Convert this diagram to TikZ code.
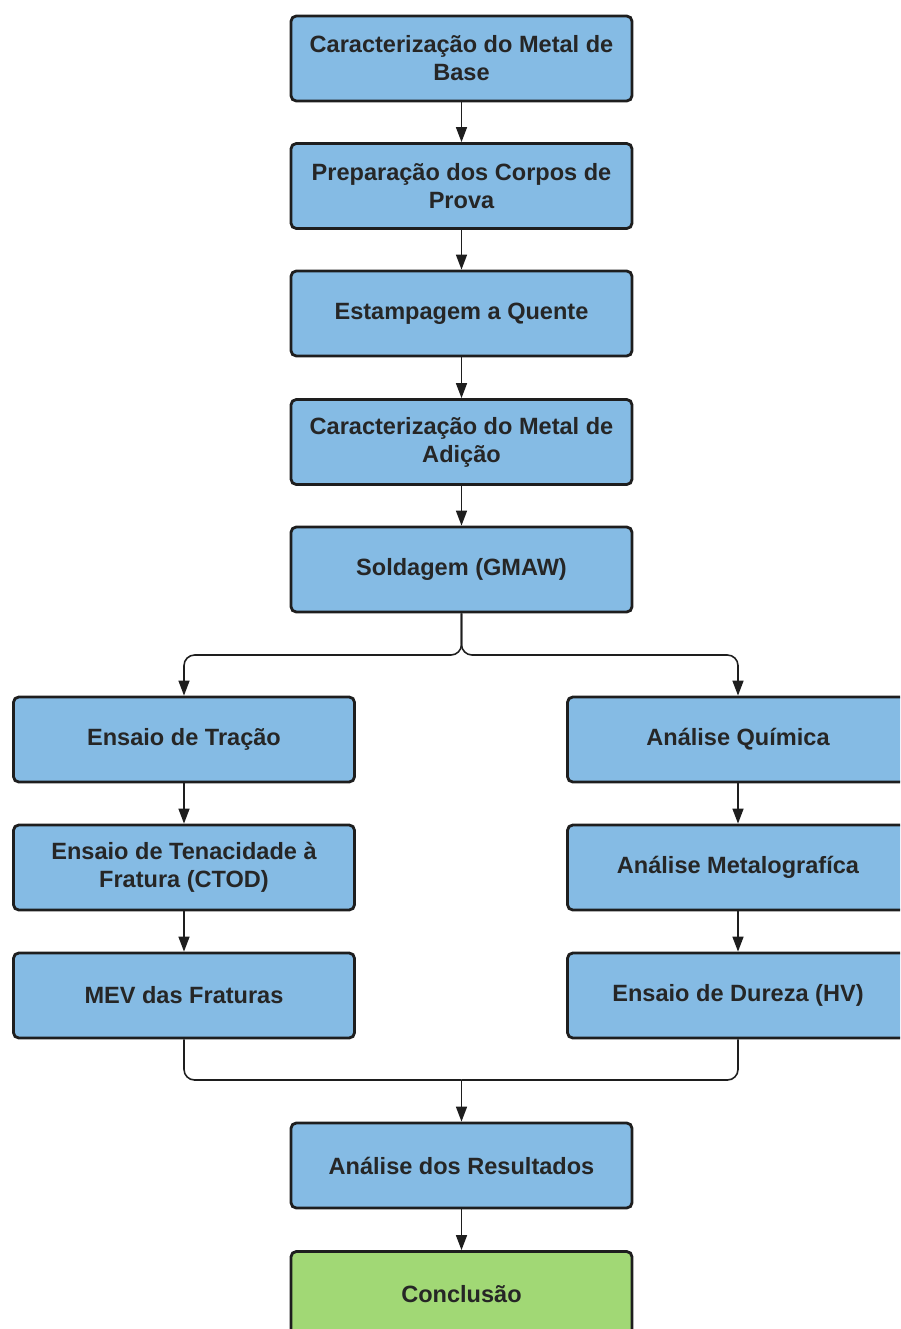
\documentclass[tikz,border=0pt]{standalone}
\usepackage{fontspec}
\setmainfont{Liberation Sans}
\usetikzlibrary{arrows.meta}
\definecolor{boxblue}{RGB}{133,187,228}
\definecolor{boxgreen}{RGB}{161,216,117}
\definecolor{lineblack}{RGB}{30,30,30}

\begin{document}
\begin{tikzpicture}[
	etapa/.style={draw=lineblack,line width=1.6pt,fill=boxblue,rounded corners=3pt,
		minimum width=6.82cm,minimum height=1.7cm,align=center,
		font=\fontsize{13.4}{16}\selectfont\bfseries,text=black!85},
	final/.style={etapa,fill=boxgreen},
	seta/.style={draw=lineblack,line width=0.9pt,-{Triangle[length=0.3cm,width=0.22cm]}},
	liga/.style={draw=lineblack,line width=0.9pt,rounded corners=6pt}]
			\clip(0,0) rectangle (18,-26.58);
			% coluna central
			\node[etapa] (base) at (9.23,-1.17) {Caracterização do Metal de\\Base};
			\node[etapa] (prep) at (9.23,-3.72) {Preparação dos Corpos de\\Prova};
			\node[etapa] (estamp) at (9.23,-6.27) {Estampagem a Quente};
			\node[etapa] (adicao) at (9.23,-8.84) {Caracterização do Metal de\\Adição};
			\node[etapa] (solda) at (9.23,-11.39) {Soldagem (GMAW)};
			% ramo esquerdo
			\node[etapa] (tracao) at (3.68,-14.79) {Ensaio de Tração};
			\node[etapa] (ctod) at (3.68,-17.35) {Ensaio de Tenacidade à\\Fratura (CTOD)};
			\node[etapa] (mev) at (3.68,-19.91) {MEV das Fraturas};
			% ramo direito
			\node[etapa] (quimica) at (14.76,-14.79) {Análise Química};
			\node[etapa] (metalo) at (14.76,-17.35) {Análise Metalografíca};
			\node[etapa] (dureza) at (14.76,-19.91) {Ensaio de Dureza (HV)};
			% fim
			\node[etapa] (result) at (9.23,-23.31) {Análise dos Resultados};
			\node[final] (concl) at (9.23,-25.88) {Conclusão};
			\coordinate (div) at (9.23,-13.1);
			\coordinate (junta) at (9.23,-21.6);
			\draw[seta](base)--(prep);
			\draw[seta](prep)--(estamp);
			\draw[seta](estamp)--(adicao);
			\draw[seta](adicao)--(solda);
			\draw[seta,rounded corners=6pt](solda.south)--(div)-|(tracao.north);
			\draw[seta,rounded corners=6pt](solda.south)--(div)-|(quimica.north);
			\draw[seta](tracao)--(ctod);
			\draw[seta](ctod)--(mev);
			\draw[seta](quimica)--(metalo);
			\draw[seta](metalo)--(dureza);
			\draw[liga](mev.south)|-(junta);
			\draw[liga](dureza.south)|-(junta);
			\draw[seta](junta)--(result);
			\draw[seta](result)--(concl);
		\end{tikzpicture}
\end{document}
